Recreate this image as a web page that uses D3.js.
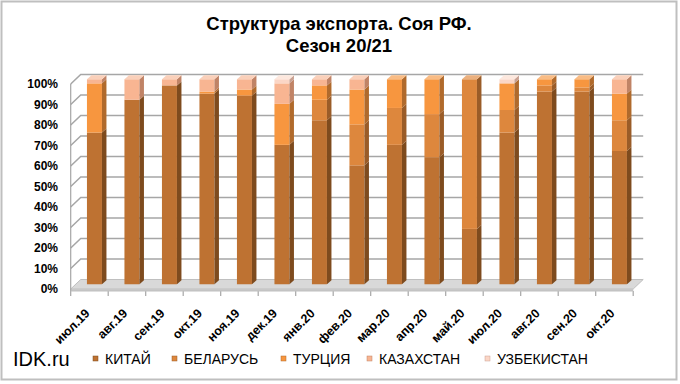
<!DOCTYPE html>
<html><head><meta charset="utf-8">
<script src="https://cdn.jsdelivr.net/npm/d3@7"></script>
<style>html,body{margin:0;padding:0;background:#fff}svg{display:block}</style>
</head><body>
<svg id="c" width="680" height="384"></svg>
<script>
const categories = ["июл.19","авг.19","сен.19","окт.19","ноя.19","дек.19","янв.20","фев.20","мар.20","апр.20","май.20","июл.20","авг.20","сен.20","окт.20"];
const seriesNames = ["КИТАЙ","БЕЛАРУСЬ","ТУРЦИЯ","КАЗАХСТАН","УЗБЕКИСТАН"];
const china      = [74,90,97,93,92,68,80,58,68,62,27,74,94,94,65];
const belarus    = [0,0,0,0,0,0,10,20,18,21,73,11,3,2,15];
const turkey     = [24,0,0,1,3,20,7,17,14,17,0,13,3,4,13];
const kazakhstan = [2,10,3,6,5,10,3,5,0,0,0,0,0,0,7];
const uzbekistan = [0,0,0,0,0,2,0,0,0,0,0,2,0,0,0];
const yTicks = [0,0.1,0.2,0.3,0.4,0.5,0.6,0.7,0.8,0.9,1];

const seriesValues = [china, belarus, turkey, kazakhstan, uzbekistan];
const colors = {
  front: ["#BE7232","#DD873D","#F7963F","#F8B592","#FBD6C6"],
  side:  ["#7E4B1E","#9A5C28","#B06A2C","#C08366","#C9A192"],
  top:   ["#D49A70","#EBB07E","#F9BC85","#FAD0BA","#FDE8DE"]
};

const svg = d3.select("#c");
const FONT = "'Liberation Sans', Arial, sans-serif";

// border
svg.append("rect").attr("x",1.5).attr("y",1.5).attr("width",675).attr("height",378)
  .attr("fill","#fff").attr("stroke","#BFBFBF").attr("stroke-width",2);

// title
svg.append("text").attr("x",339).attr("y",30).attr("text-anchor","middle")
  .attr("font-family",FONT).attr("font-weight","bold").attr("font-size",18.5)
  .text("Структура экспорта. Соя РФ.");
svg.append("text").attr("x",339).attr("y",51.5).attr("text-anchor","middle")
  .attr("font-family",FONT).attr("font-weight","bold").attr("font-size",18.5)
  .text("Сезон 20/21");

const x0 = 70.7, x1 = 633.2;
const DX = 10, DY = -9.5; // depth of wall
const x = d3.scaleBand().domain(categories).range([x0, x1]).paddingInner(0.6).paddingOuter(0.3);
const y = d3.scaleLinear().domain([0,1]).range([289, 84]);

const grid = svg.append("g");
// floor
const floorY = y(0);
grid.append("path")
  .attr("d", `M${x0},${floorY} L${x1},${floorY} L${x1+DX},${floorY+DY} L${x0+DX},${floorY+DY} Z`)
  .attr("fill","#D9D9D9").attr("stroke","#BFBFBF").attr("stroke-width",1);
grid.append("rect").attr("x",x0).attr("y",floorY).attr("width",x1-x0).attr("height",2)
  .attr("fill","#C8C8C8");

// gridlines (left wall diagonal + back wall horizontal)
yTicks.forEach(t => {
  if (t === 0) return;
  const yy = y(t);
  grid.append("path")
    .attr("d", `M${x0},${yy} L${x0+DX},${yy+DY} L${x1+DX},${yy+DY}`)
    .attr("fill","none").attr("stroke","#A6A6A6").attr("stroke-width",1.5);
});
// left axis
grid.append("line").attr("x1",x0).attr("x2",x0).attr("y1",y(1)).attr("y2",y(0)+2)
  .attr("stroke","#A6A6A6").attr("stroke-width",1.2);

// y labels
svg.append("g").selectAll("text").data(yTicks).join("text")
  .attr("x",58).attr("y",d=>y(d)).attr("dy","0.35em").attr("text-anchor","end")
  .attr("font-family",FONT).attr("font-weight","bold").attr("font-size",12)
  .text(d3.format(".0%"));

// category ticks
const tickXs = d3.range(categories.length+1).map(i => x0 + i*x.step());
svg.append("g").selectAll("line").data(tickXs).join("line")
  .attr("x1",d=>d).attr("x2",d=>d).attr("y1",floorY+2).attr("y2",floorY+7)
  .attr("stroke","#A6A6A6").attr("stroke-width",1.2);
svg.append("line").attr("x1",x0).attr("x2",x1).attr("y1",floorY+2).attr("y2",floorY+2)
  .attr("stroke","#BFBFBF").attr("stroke-width",1);

// category labels
svg.append("g").selectAll("text").data(categories).join("text")
  .attr("transform", d => `translate(${x(d)+x.bandwidth()/2 - 2},${floorY+22}) rotate(-45)`)
  .attr("text-anchor","end").attr("dy","0.35em")
  .attr("font-family",FONT).attr("font-weight","bold").attr("font-size",12.5)
  .text(d=>d);

// stacked data
const table = categories.map((c,i) => {
  const o = {cat:c};
  seriesNames.forEach((s,k) => o[s] = seriesValues[k][i]);
  return o;
});
const stack = d3.stack().keys(seriesNames).offset(d3.stackOffsetExpand)(table);

// bars at mid depth
const bx = DX/2, by = DY/2;   // bar placement offset
const bdx = 4.5, bdy = -4;    // bar depth
const bars = svg.append("g");
categories.forEach((c,i) => {
  const left = x(c) + bx, w = x.bandwidth();
  let topK = -1;
  stack.forEach((s,k) => { if (s[i][1]-s[i][0] > 0) topK = k; });
  stack.forEach((s,k) => {
    const v0 = s[i][0], v1 = s[i][1];
    if (v1 - v0 <= 0) return;
    const yb = y(v0) + by, yt = y(v1) + by;
    bars.append("rect").attr("x",left).attr("y",yt).attr("width",w).attr("height",yb-yt)
      .attr("fill",colors.front[k]);
    bars.append("path")
      .attr("d",`M${left+w},${yb} L${left+w+bdx},${yb+bdy} L${left+w+bdx},${yt+bdy} L${left+w},${yt} Z`)
      .attr("fill",colors.side[k]);
    if (k === topK) {
      bars.append("path")
        .attr("d",`M${left},${yt} L${left+bdx},${yt+bdy} L${left+w+bdx},${yt+bdy} L${left+w},${yt} Z`)
        .attr("fill",colors.top[k]);
    }
  });
});

// watermark
svg.append("text").attr("x",13).attr("y",366).attr("font-family",FONT).attr("font-size",20)
  .text("IDK.ru");

// legend
const legX = [93, 172, 281, 367, 485];
const leg = svg.append("g");
seriesNames.forEach((s,k) => {
  leg.append("rect").attr("x",legX[k]).attr("y",356).attr("width",5).attr("height",5)
    .attr("fill",colors.front[k]).attr("stroke",colors.side[k]).attr("stroke-width",0.5);
  leg.append("text").attr("x",legX[k]+12).attr("y",359).attr("dy","0.35em")
    .attr("font-family","'Liberation Sans Narrow', 'Liberation Sans', Arial, sans-serif")
    .attr("font-size",14).text(s);
});
</script>
</body></html>
